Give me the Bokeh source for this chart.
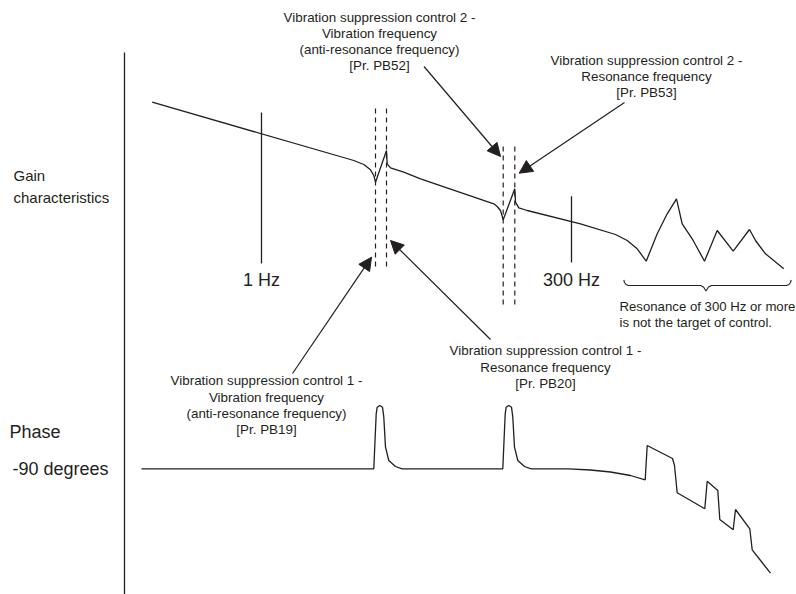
from bokeh.plotting import figure
from bokeh.models import Range1d, Arrow, NormalHead
from bokeh.core.properties import value
from bokeh.embed import file_html
from bokeh.resources import INLINE

INK = "#231f20"
FONT = "Liberation Sans"

# ---- gain characteristic curve (diagram coordinates) ----
gain_x = [151.7, 353.3, 363.3, 370, 373.3, 375, 386, 386.7, 390, 403.3, 420,
          493.3, 496.7, 500, 502.7, 514.3, 515, 518.3, 526.7, 580, 615,
          626.7, 636.7, 645.7, 656.7, 666.7, 676, 681.7, 691.7, 704,
          716.7, 732.7, 749, 755, 765, 783.3]
gain_y = [101.7, 160, 164, 169.3, 175, 181.7, 150, 163.3, 167.3, 171.7, 178.3,
          203.3, 206, 210, 219.3, 188.3, 201.7, 207.3, 210, 223.3, 234,
          240, 248.3, 260.7, 233.3, 213.3, 198.3, 223.3, 238.3, 260.7,
          230, 250.7, 229, 240, 253.3, 268.3]

# ---- phase characteristic curve ----
phase_x = [141, 373.3, 375.7, 376.7, 379.3, 382, 383.3, 385, 388.3, 395, 401.7,
           502.3, 504.7, 505.7, 508.3, 511, 512.3, 514, 517.3, 524, 530.7,
           568, 590, 610, 630, 644.7, 646.7, 672, 674, 676.7, 704.3, 706.7,
           717.3, 719.3, 732.7, 735, 749.3, 751.7, 770]
phase_y = [468.3, 468.3, 413.3, 406.7, 405, 406.7, 416.7, 446.7, 460, 466, 468.3,
           468.3, 413.3, 406.7, 405, 406.7, 416.7, 446.7, 460, 466, 468.3,
           468.3, 469.5, 471.5, 475, 479.3, 445, 458, 465, 492.3, 508.3, 480.7,
           490, 519, 529.3, 509, 528.3, 549.3, 572.7]

# ---- brace under the high-frequency resonances ----
brace_x = [623.3, 624, 625.5, 628, 700, 703, 705.5, 708, 711, 786, 788.5, 790, 790.7]
brace_y = [279.5, 282, 284, 285, 285, 286.5, 290.5, 286.5, 285, 285, 284, 282, 279.5]

# ---- solid marker lines: axis, 1 Hz, 300 Hz ----
solid_x0 = [124, 261, 571]
solid_y0 = [52, 112, 195.8]
solid_x1 = [124, 261, 571]
solid_y1 = [594, 263, 262]

# ---- dashed frequency markers ----
dash_x0 = [375, 386, 502.7, 514.3]
dash_y0 = [108, 108, 146, 146]
dash_x1 = [375, 386, 502.7, 514.3]
dash_y1 = [267, 267, 305, 305]

# ---- annotation arrows (start -> tip) ----
arrow_x0 = [423.5, 624, 292, 490]
arrow_y0 = [66, 102, 373, 339]
arrow_x1 = [500, 518.7, 371, 390]
arrow_y1 = [156, 172.7, 256.7, 240]

# ---- annotation text blocks (centred) ----
ann_text = [
    "Vibration suppression control 2 -", "Vibration frequency",
    "(anti-resonance frequency)", "[Pr. PB52]",
    "Vibration suppression control 2 -", "Resonance frequency", "[Pr. PB53]",
    "Vibration suppression control 1 -", "Resonance frequency", "[Pr. PB20]",
    "Vibration suppression control 1 -", "Vibration frequency",
    "(anti-resonance frequency)", "[Pr. PB19]",
]
ann_x = [379, 379, 379, 379, 646, 646, 646, 545, 545, 545, 266, 266, 266, 266]
ann_y = [17, 33, 49, 65, 60, 76, 92, 350, 366.5, 382.5, 380, 396.5, 413, 429]

# ---- left aligned notes ----
note_text = ["Resonance of 300 Hz or more", "is not the target of control."]
note_x = [619, 619]
note_y = [306, 321.5]

# ---- side labels ----
small_lbl_text = ["Gain", "characteristics"]
small_lbl_x = [13, 13]
small_lbl_y = [175, 196.5]

big_lbl_text = ["Phase", "-90 degrees"]
big_lbl_x = [9, 12]
big_lbl_y = [431.5, 468]

freq_text = ["1 Hz", "300 Hz"]
freq_x = [261, 571]
freq_y = [279, 279]

p = figure(width=796, height=594, output_backend="svg", toolbar_location=None,
           x_range=Range1d(0, 796), y_range=Range1d(594, 0),
           x_axis_location=None, y_axis_location=None, min_border=0)
p.xgrid.visible = False
p.ygrid.visible = False
p.outline_line_color = None

LW = 1.3
p.line(gain_x, gain_y, line_color=INK, line_width=LW)
p.line(phase_x, phase_y, line_color=INK, line_width=LW)
p.line(brace_x, brace_y, line_color=INK, line_width=1.1)
p.segment(solid_x0, solid_y0, solid_x1, solid_y1, line_color=INK, line_width=LW)
p.segment(dash_x0, dash_y0, dash_x1, dash_y1, line_color=INK, line_width=1.2,
          line_dash="5 4")

for x0, y0, x1, y1 in zip(arrow_x0, arrow_y0, arrow_x1, arrow_y1):
    p.add_layout(Arrow(x_start=x0, y_start=y0, x_end=x1, y_end=y1,
                       line_color=INK, line_width=1.2,
                       end=NormalHead(size=13, fill_color=INK, line_color=INK,
                                      line_width=1)))

p.text(x=ann_x, y=ann_y, text=ann_text, text_font=value(FONT),
       text_font_size="13.4px", text_align="center", text_baseline="middle",
       text_color=INK)
p.text(x=note_x, y=note_y, text=note_text, text_font=value(FONT),
       text_font_size="13.2px", text_align="left", text_baseline="middle",
       text_color=INK)
p.text(x=small_lbl_x, y=small_lbl_y, text=small_lbl_text, text_font=value(FONT),
       text_font_size="15px", text_align="left", text_baseline="middle",
       text_color=INK)
p.text(x=big_lbl_x, y=big_lbl_y, text=big_lbl_text, text_font=value(FONT),
       text_font_size="18px", text_align="left", text_baseline="middle",
       text_color=INK)
p.text(x=freq_x, y=freq_y, text=freq_text, text_font=value(FONT),
       text_font_size="18px", text_align="center", text_baseline="middle",
       text_color=INK)

open("out.html", "w").write(file_html(p, INLINE))
